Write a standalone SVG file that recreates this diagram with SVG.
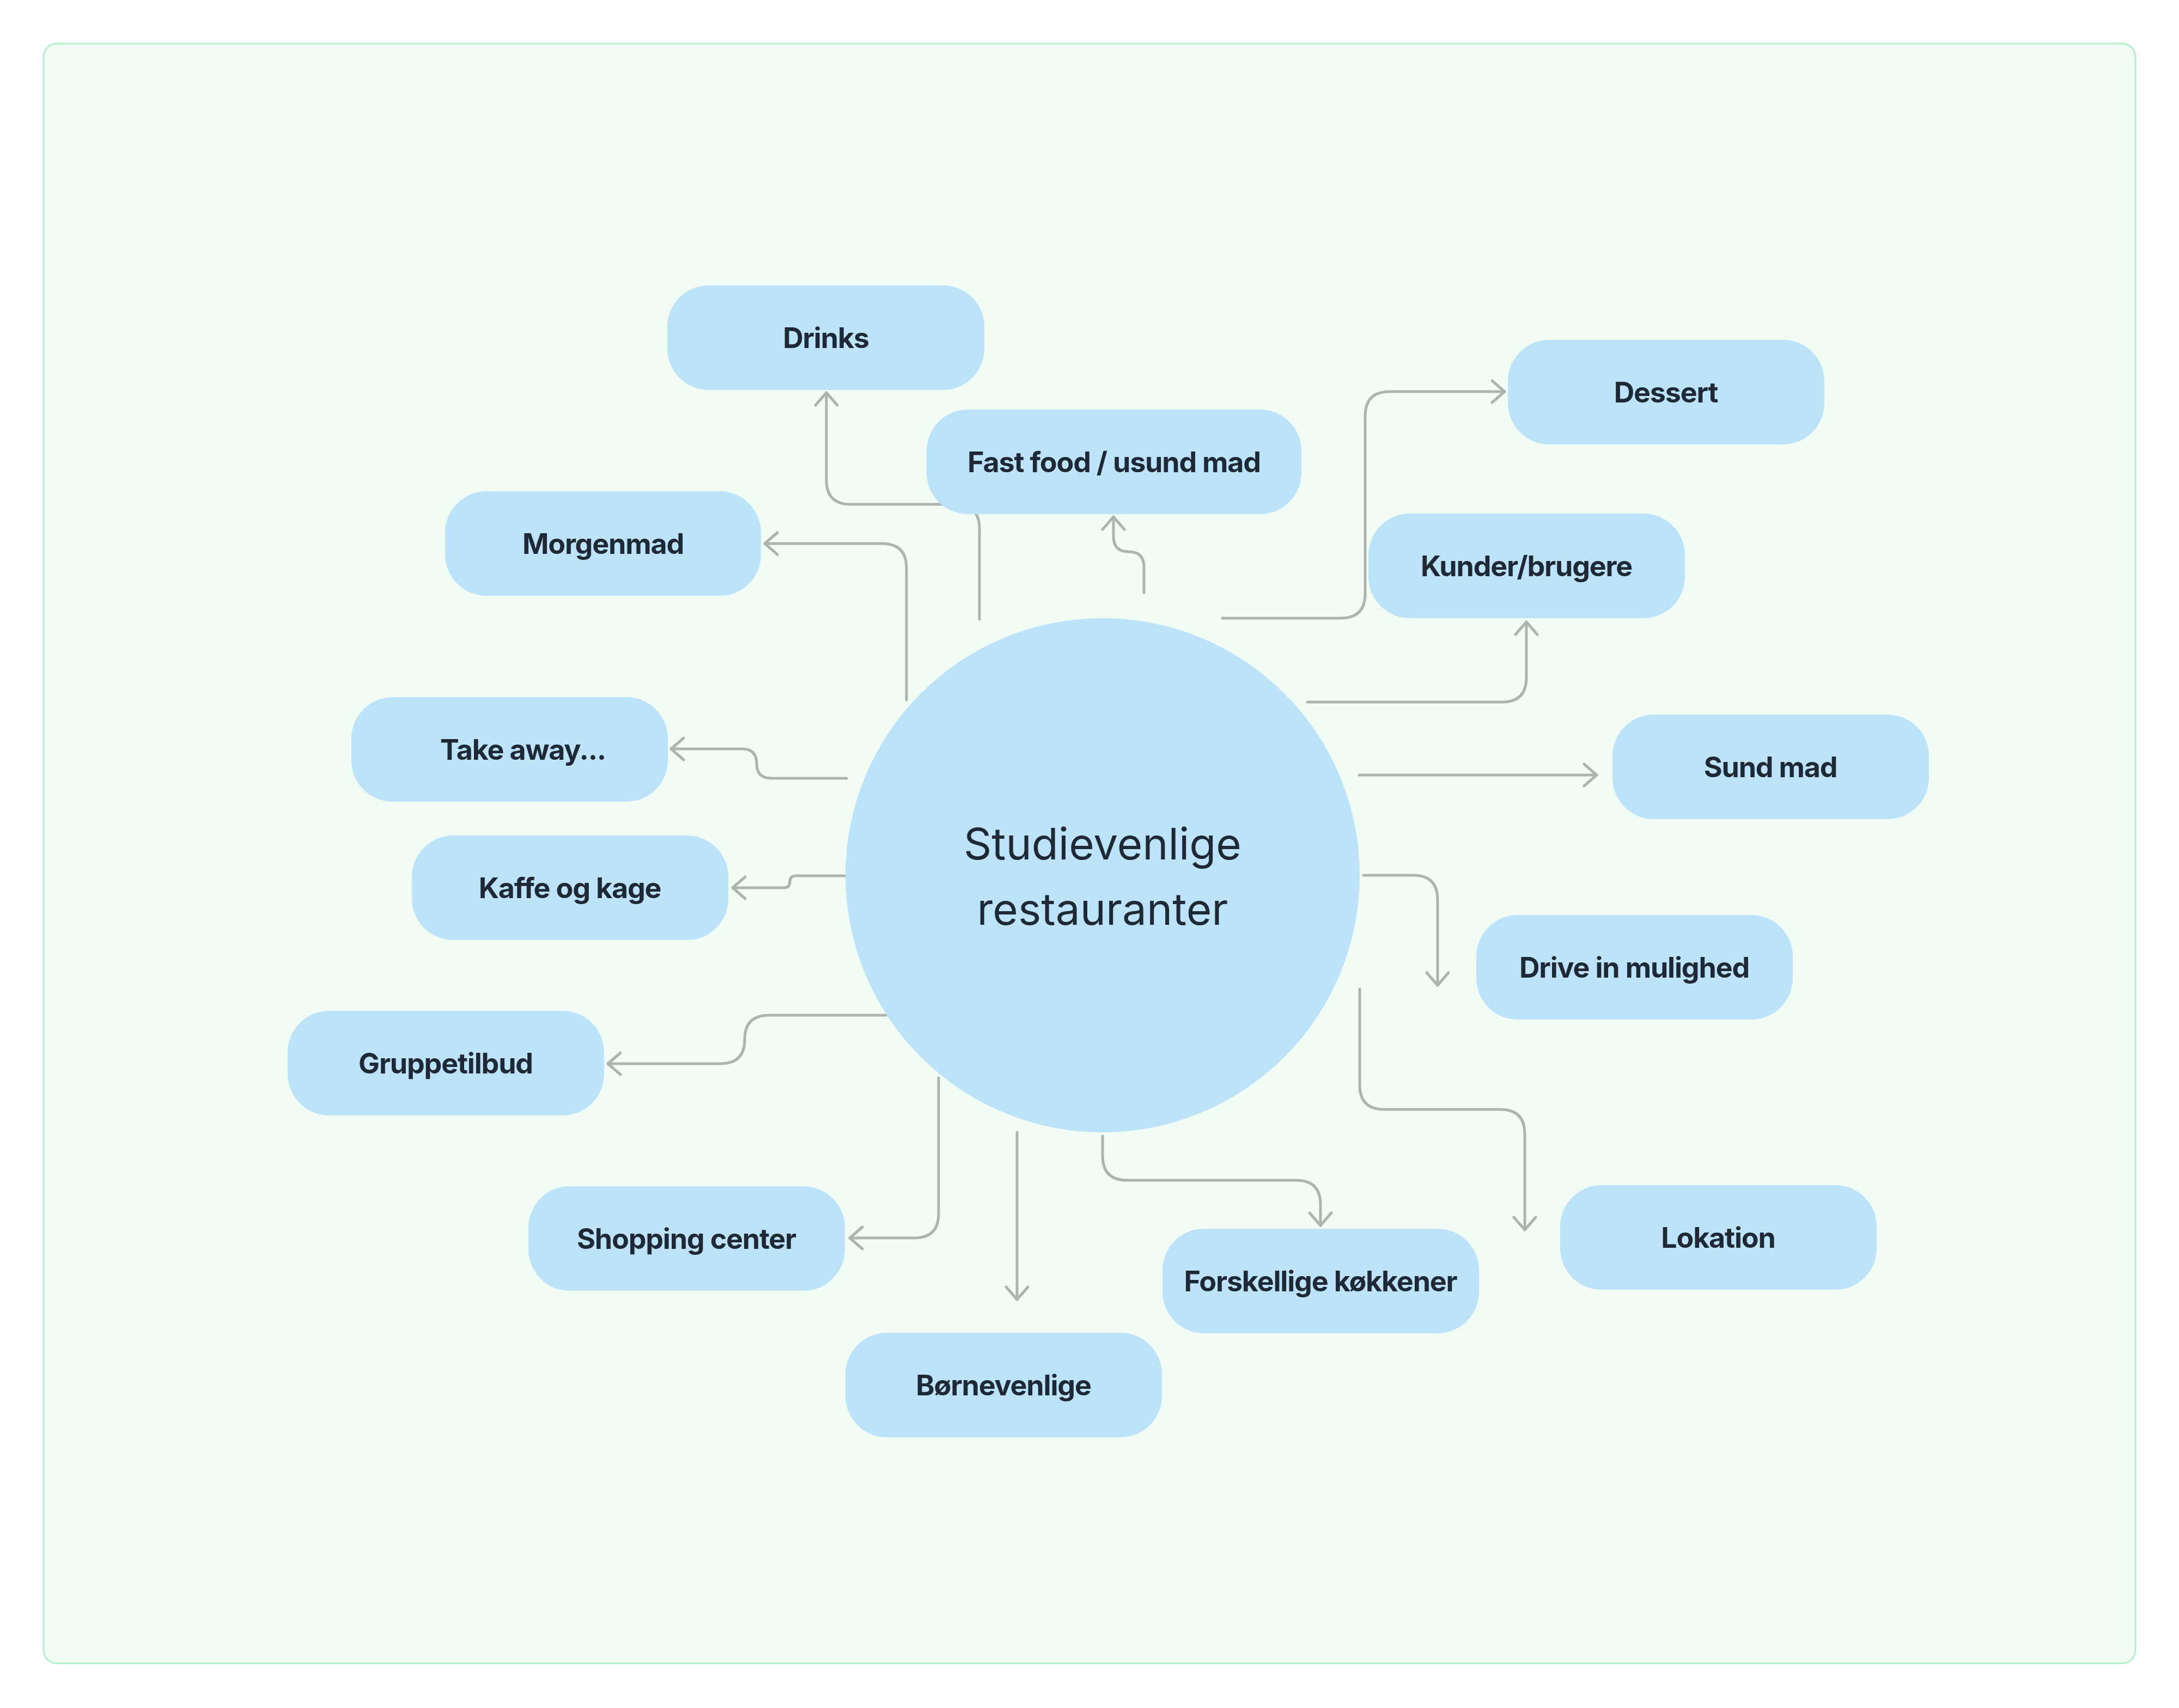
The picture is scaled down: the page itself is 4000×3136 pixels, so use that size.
<svg xmlns="http://www.w3.org/2000/svg" width="4000" height="3136" viewBox="0 0 4000 3136">
<defs>
<style>
.node rect{fill:#bde3fb}
.node text{font-family:Inter,"Liberation Sans",sans-serif;font-weight:700;font-size:52px;letter-spacing:-1.2px;fill:#1e2935;text-anchor:middle}
.hub text{font-family:Inter,"Liberation Sans",sans-serif;font-weight:400;font-size:80px;fill:#1e2935;text-anchor:middle}
.conn path{fill:none;stroke:#adb3ae;stroke-width:5;stroke-linecap:round;stroke-linejoin:round;marker-end:url(#arr)}
</style>
<marker id="arr" markerUnits="userSpaceOnUse" markerWidth="60" markerHeight="60" refX="30" refY="30" orient="auto" viewBox="0 0 60 60">
<path d="M7,10 L30,30 L7,50" fill="none" stroke="#adb3ae" stroke-width="5" stroke-linecap="round" stroke-linejoin="round"/>
</marker>
</defs>
<rect x="0" y="0" width="4000" height="3136" fill="#ffffff"/>
<rect x="80" y="80" width="3840" height="2974" rx="24" fill="#f1fcf5" stroke="#b4efcb" stroke-width="3"/>

<g class="conn">
<path d="M1798,1137 V971 Q1798,926 1753,926 H1562 Q1517,926 1517,881 V721"/>
<path d="M2100,1088 V1041 Q2100,1013 2072,1013 Q2044,1013 2044,985 V949"/>
<path d="M1664,1285 V1043 Q1664,998 1619,998 H1404"/>
<path d="M2244,1135 H2461 Q2506,1135 2506,1090 V764 Q2506,719 2551,719 H2762"/>
<path d="M2400,1289 H2757 Q2802,1289 2802,1244 V1142"/>
<path d="M2495,1423 H2931"/>
<path d="M2503,1607 H2594 Q2639,1607 2639,1652 V1809"/>
<path d="M2496,1816 V1992 Q2496,2037 2541,2037 H2754 Q2799,2037 2799,2082 V2258"/>
<path d="M2024,2086 V2122 Q2024,2167 2069,2167 H2379 Q2424,2167 2424,2212 V2250"/>
<path d="M1867,2079 V2386"/>
<path d="M1723,1979 V2228 Q1723,2273 1678,2273 H1560"/>
<path d="M1626,1864 H1412 Q1367,1864 1367,1909 Q1367,1953 1322,1953 H1116"/>
<path d="M1552,1608 H1461 Q1450,1608 1450,1619 Q1450,1630 1439,1630 H1345"/>
<path d="M1554,1429 H1416 Q1389,1429 1389,1402 Q1389,1375 1362,1375 H1232"/>
</g>

<g id="hub" class="hub">
<circle cx="2024" cy="1607" r="472" fill="#bde3fb"/>
<text x="2024" y="1578">Studievenlige</text>
<text x="2024" y="1698">restauranter</text>
</g>

<g id="n-drinks" class="node"><rect x="1225" y="524" width="582" height="192" rx="76"/><text x="1516" y="639">Drinks</text></g>
<g id="n-fastfood" class="node"><rect x="1701" y="752" width="688" height="192" rx="76"/><text x="2045" y="867">Fast food / usund mad</text></g>
<g id="n-morgenmad" class="node"><rect x="817" y="902" width="580" height="192" rx="76"/><text x="1107" y="1017">Morgenmad</text></g>
<g id="n-dessert" class="node"><rect x="2768" y="624" width="581" height="192" rx="76"/><text x="3058" y="739">Dessert</text></g>
<g id="n-kunder" class="node"><rect x="2512" y="943" width="581" height="192" rx="76"/><text x="2802" y="1058">Kunder/brugere</text></g>
<g id="n-takeaway" class="node"><rect x="645" y="1280" width="581" height="192" rx="76"/><text x="960" y="1395">Take away...</text></g>
<g id="n-sundmad" class="node"><rect x="2960" y="1312" width="581" height="192" rx="76"/><text x="3250" y="1427">Sund mad</text></g>
<g id="n-kaffe" class="node"><rect x="756" y="1534" width="581" height="192" rx="76"/><text x="1046" y="1649">Kaffe og kage</text></g>
<g id="n-drivein" class="node"><rect x="2710" y="1680" width="581" height="192" rx="76"/><text x="3000" y="1795">Drive in mulighed</text></g>
<g id="n-gruppe" class="node"><rect x="528" y="1856" width="581" height="192" rx="76"/><text x="818" y="1971">Gruppetilbud</text></g>
<g id="n-lokation" class="node"><rect x="2864" y="2176" width="581" height="192" rx="76"/><text x="3154" y="2291">Lokation</text></g>
<g id="n-shopping" class="node"><rect x="970" y="2178" width="581" height="192" rx="76"/><text x="1260" y="2293">Shopping center</text></g>
<g id="n-forskellige" class="node"><rect x="2134" y="2256" width="581" height="192" rx="76"/><text x="2424" y="2371">Forskellige køkkener</text></g>
<g id="n-born" class="node"><rect x="1552" y="2447" width="581" height="192" rx="76"/><text x="1842" y="2562">Børnevenlige</text></g>
</svg>
